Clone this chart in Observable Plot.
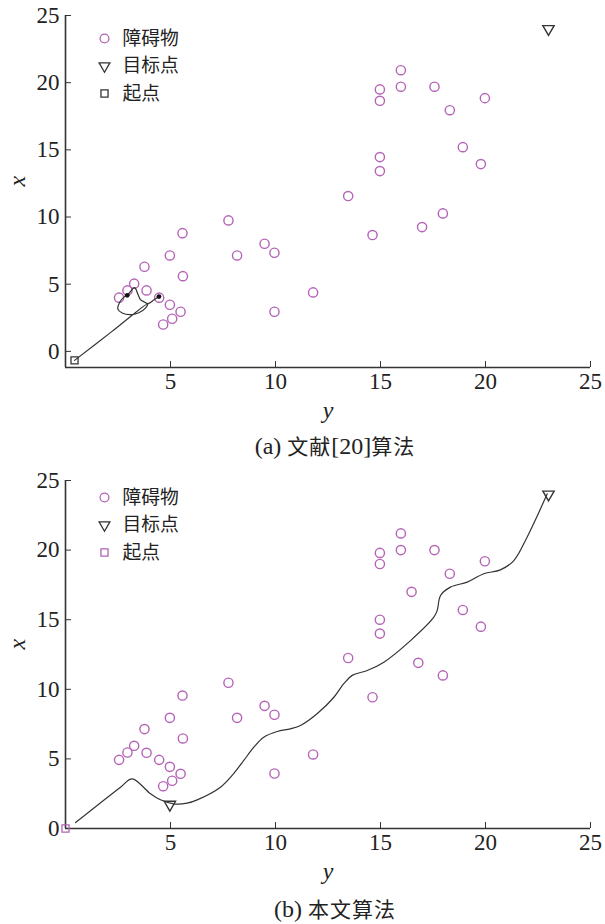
<!DOCTYPE html>
<html><head><meta charset="utf-8">
<script src="https://cdn.jsdelivr.net/npm/d3@7"></script>
<script src="https://cdn.jsdelivr.net/npm/@observablehq/plot@0.6"></script>
<style>
body{margin:0;background:#fff;width:605px;overflow:hidden;}
.cap{font-family:"Liberation Serif","Noto Sans CJK SC",serif;font-size:24px;text-align:center;color:#222;padding-left:65px;}
.cap .zh{font-family:"Noto Sans CJK SC",sans-serif;font-size:21px;letter-spacing:1px;}
svg{display:block;overflow:visible;}
</style></head><body>
<div id="a"></div>
<div class="cap" style="height:40px;line-height:40px">(a) <span class="zh">文献</span>[20]<span class="zh">算法</span></div>
<div id="b"></div>
<div class="cap" style="height:44px;line-height:44px">(b) <span class="zh">本文算法</span></div>
<script>
// ---- data: [y (horizontal), x (vertical)] ----
const xTicks = [5, 10, 15, 20, 25];
const yTicks = [0, 5, 10, 15, 20, 25];
const legendLabels = ["障碍物", "目标点", "起点"];
const axisNames = {horizontal: "y", vertical: "x"};

const obstaclesA = [[15.97,20.93],[14.97,19.5],[15.97,19.7],[17.57,19.7],[14.97,18.65],[19.97,18.85],[18.3,17.95],[18.92,15.2],[14.97,14.46],[19.78,13.94],[14.97,13.42],[13.46,11.56],[17.97,10.27],[16.98,9.25],[14.62,8.66],[11.79,4.39],[7.76,9.75],[5.57,8.8],[9.48,8.01],[9.95,7.34],[4.97,7.14],[8.17,7.14],[3.76,6.3],[5.59,5.6],[3.27,5.04],[2.95,4.54],[3.86,4.54],[2.55,4.0],[4.46,4.0],[4.97,3.47],[5.48,2.95],[9.95,2.95],[5.08,2.43],[4.65,2.0]];
const pathA = [[0.43,-0.67],[2.2,1.47],[3.92,3.55],[3.81,3.22],[3.49,2.88],[3.1,2.73],[2.7,2.85],[2.49,3.17],[2.59,3.67],[2.78,4.04],[2.94,4.17],[3.29,4.74],[3.44,4.29],[3.57,3.85],[3.75,3.68],[3.92,3.55],[4.2,3.82],[4.45,4.08]];
const blobsA = [[2.94,4.17],[4.45,4.08]];
const targetsA = [[23,24]];
const startA = [[0.43,-0.67]];

const obstaclesB = [[15.97,21.2],[14.97,19.8],[15.97,20.0],[17.57,20.0],[14.97,19.0],[19.97,19.2],[18.3,18.3],[16.48,17.0],[18.92,15.7],[14.97,15.0],[19.78,14.5],[14.97,14.0],[13.46,12.25],[16.8,11.9],[17.97,11.0],[14.62,9.43],[11.79,5.32],[7.76,10.47],[5.57,9.55],[9.48,8.81],[9.95,8.17],[4.97,7.95],[8.17,7.95],[3.76,7.14],[5.59,6.47],[3.27,5.94],[2.95,5.46],[3.86,5.44],[2.55,4.93],[4.46,4.93],[4.97,4.43],[5.48,3.93],[9.95,3.95],[5.08,3.43],[4.65,3.04]];
const pathB = [[0.48,0.43],[2.62,2.97],[3.17,3.57],[4.05,2.49],[4.52,2.06],[5.16,1.77],[5.79,1.82],[6.27,2.06],[7.38,2.97],[8.0,3.93],[8.49,4.89],[8.97,5.84],[9.44,6.56],[10.08,6.97],[10.71,7.16],[11.19,7.4],[11.98,8.24],[12.78,9.43],[13.25,10.4],[13.65,11.0],[14.37,11.35],[15.16,11.95],[16.43,13.5],[17.54,15.18],[17.7,15.66],[17.86,16.74],[18.33,17.34],[19.13,17.7],[19.92,18.3],[20.71,18.58],[21.35,19.25],[21.98,20.93],[22.94,24.04]];
const blobsB = [];
const targetsB = [[4.97,1.72],[23,24]];
const startB = [[0,0]];

const PURPLE = "#b463b6";
const DARK = "#333";
const FONT = "'Liberation Serif','Noto Sans CJK SC',serif";

function panel({obstacles, path, blobs, targets, start, startColor, yMin, marginTop, height, legendTop, curve}) {
  const X = d => d[0], Y = d => d[1];
  const legendSymbols = [
    {symbol: "circle", stroke: PURPLE, r: 4.4, rotate: 0},
    {symbol: "triangle", stroke: DARK, r: 4, rotate: 180},
    {symbol: "square", stroke: startColor, r: 4, rotate: 0}
  ];
  const step = 27.5;
  const legendMarks = legendLabels.flatMap((lab, i) => [
    Plot.dot([lab], {frameAnchor: "top-left", dx: 39, dy: legendTop + i * step, symbol: legendSymbols[i].symbol, r: legendSymbols[i].r, stroke: legendSymbols[i].stroke, strokeWidth: 1.3, rotate: legendSymbols[i].rotate, fill: "none"}),
    Plot.text([lab], {frameAnchor: "top-left", dx: 57, dy: legendTop + i * step, text: d => d, textAnchor: "start", lineAnchor: "middle", fontSize: 18.8, fill: "#222", fontFamily: "'Noto Sans CJK SC',sans-serif"})
  ]);
  return Plot.plot({
    width: 605, height, marginLeft: 65, marginRight: 15, marginTop, marginBottom: 58,
    x: {domain: [0, 25]},
    y: {domain: [yMin, 25]},
    style: {fontFamily: FONT, fontSize: "23px", color: "#222", background: "white", overflow: "visible"},
    marks: [
      Plot.axisX({ticks: xTicks, tickSize: -6, tickPadding: 11, label: null, stroke: DARK, fontSize: 23}),
      Plot.axisY({ticks: yTicks, tickSize: -6, tickPadding: 12, label: null, stroke: DARK, fontSize: 23}),
      Plot.ruleX([0], {stroke: DARK, strokeWidth: 1.6}),
      Plot.ruleY([yMin], {stroke: DARK, strokeWidth: 1.6}),
      Plot.text([axisNames.horizontal], {frameAnchor: "bottom", dy: 43, text: d => d, fontStyle: "italic", fontSize: 24, lineAnchor: "middle"}),
      Plot.text([axisNames.vertical], {frameAnchor: "left", dx: -48, dy: -5, text: d => d, fontStyle: "italic", fontSize: 24, rotate: -90, lineAnchor: "middle"}),
      Plot.dot(obstacles, {x: X, y: Y, r: 4.6, stroke: PURPLE, strokeWidth: 1.4, fill: "none"}),
      Plot.line(path, {x: X, y: Y, stroke: DARK, strokeWidth: 1.2, curve}),
      Plot.dot(blobs, {x: X, y: Y, r: 2.4, fill: "#111"}),
      Plot.dot(targets, {x: X, y: Y, symbol: "triangle", r: 4.2, rotate: 180, stroke: DARK, strokeWidth: 1.4, fill: "none"}),
      Plot.dot(start, {x: X, y: Y, symbol: "square", r: 4, stroke: startColor, strokeWidth: 1.3, fill: "none"}),
      ...legendMarks
    ]
  });
}

document.getElementById("a").append(panel({
  obstacles: obstaclesA, path: pathA, blobs: blobsA, targets: targetsA, start: startA,
  startColor: DARK, yMin: -1.2, marginTop: 15, height: 425, legendTop: 23, curve: "catmull-rom"
}));
document.getElementById("b").append(panel({
  obstacles: obstaclesB, path: pathB, blobs: blobsB, targets: targetsB, start: startB,
  startColor: PURPLE, yMin: 0, marginTop: 15, height: 421, legendTop: 17, curve: "catmull-rom"
}));
</script>
</body></html>
